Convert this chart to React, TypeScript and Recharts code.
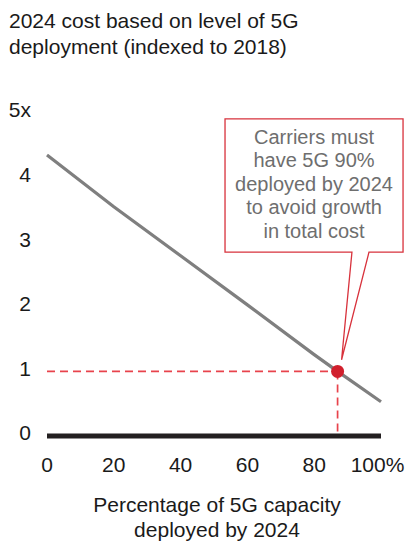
import React from "react";
import {
  ComposedChart,
  Line,
  XAxis,
  YAxis,
  ReferenceLine,
  ReferenceArea,
} from "recharts";

// percentage of 5G capacity deployed by 2024 vs 2024 cost (indexed to 2018)
const deployedPct = [0, 20, 40, 60, 80, 87, 100];
const costIndex = [4.35, 3.55, 2.79, 2.03, 1.26, 1.0, 0.53];

const xTicks = [0, 20, 40, 60, 80, 100];
const yTicks = [0, 1, 2, 3, 4, 5];

const targetPct = 87;
const targetCost = 1;

const titleLines = ["2024 cost based on level of 5G", "deployment (indexed to 2018)"];
const xLabelLines = ["Percentage of 5G capacity", "deployed by 2024"];
const calloutLines = [
  "Carriers must",
  "have 5G 90%",
  "deployed by 2024",
  "to avoid growth",
  "in total cost",
];

const chartData = deployedPct.map((x, i) => ({ x, cost: costIndex[i] }));

const FONT = '"Liberation Sans", Arial, Helvetica, sans-serif';
const RED = "#d8323c";
const DASH_RED = "#e8434c";

// callout box in data units (box sticks out past 100 on the right)
const BOX = { x1: 53.3, x2: 106.6, y1: 2.845, y2: 4.91 };
const POINTER = { baseL: 91.3, baseR: 96.4, tipX: 88.2, tipY: 1.18 };

function Callout(props: any) {
  const { x, y, width, height } = props;
  const kx = width / (BOX.x2 - BOX.x1);
  const ky = height / (BOX.y2 - BOX.y1);
  const px = (v: number) => x + (v - BOX.x1) * kx;
  const py = (v: number) => y + (BOX.y2 - v) * ky;
  const bottom = y + height;
  const d =
    `M${x},${y} H${x + width} V${bottom} H${px(POINTER.baseR)} ` +
    `L${px(POINTER.tipX)},${py(POINTER.tipY)} L${px(POINTER.baseL)},${bottom} H${x} Z`;
  return (
    <g>
      <path d={d} fill="#fff" stroke={RED} strokeWidth={1.3} />
      {calloutLines.map((t, i) => (
        <text
          key={i}
          x={x + width / 2}
          y={y + 25 + i * 23.5}
          textAnchor="middle"
          fontSize={20}
          fontFamily={FONT}
          fill="#6e6e6e"
        >
          {t}
        </text>
      ))}
    </g>
  );
}

function XTick(props: any) {
  const { x, y, payload } = props;
  const label = payload.value === 100 ? "100%" : String(payload.value);
  return (
    <text
      x={payload.value === 100 ? x - 3.5 : x}
      y={y}
      dy="0.71em"
      textAnchor="middle"
      fontSize={21}
      fontFamily={FONT}
      fill="#1a1a1a"
    >
      {label}
    </text>
  );
}

function YTick(props: any) {
  const { x, y, payload } = props;
  const label = payload.value === 5 ? "5x" : String(payload.value);
  return (
    <text
      x={x}
      y={y - 3}
      dy="0.355em"
      textAnchor="end"
      fontSize={21}
      fontFamily={FONT}
      fill="#1a1a1a"
    >
      {label}
    </text>
  );
}

function TargetDot(props: any) {
  const { cx, cy, payload, index } = props;
  if (payload.x !== targetPct) return <g key={`d-${index}`} />;
  return <circle key={`d-${index}`} cx={cx} cy={cy} r={6.5} fill="#d11f2c" />;
}

export default function App() {
  return (
    <div
      style={{
        position: "absolute",
        left: 0,
        top: 0,
        width: 415,
        height: 542,
        background: "#fff",
        fontFamily: FONT,
        color: "#1a1a1a",
      }}
    >
      <div
        style={{
          position: "absolute",
          left: 9,
          top: 8,
          fontSize: 21,
          lineHeight: "26px",
          whiteSpace: "nowrap",
        }}
      >
        {titleLines.map((t) => (
          <div key={t}>{t}</div>
        ))}
      </div>
      <ComposedChart
        width={415}
        height={542}
        data={chartData}
        margin={{ top: 113, right: 34, bottom: 0, left: 0 }}
        style={{ position: "absolute", left: 0, top: 0 }}
      >
        <XAxis
          dataKey="x"
          type="number"
          domain={[0, 100]}
          ticks={xTicks}
          height={106}
          tickLine={false}
          tickSize={0}
          tickMargin={21}
          axisLine={{ stroke: "#231f20", strokeWidth: 5 }}
          tick={<XTick />}
          interval={0}
        />
        <YAxis
          type="number"
          domain={[0, 5]}
          ticks={yTicks}
          width={47}
          axisLine={false}
          tickLine={false}
          tickSize={0}
          tickMargin={16}
          tick={<YTick />}
          interval={0}
        />
        <ReferenceArea
          x1={BOX.x1}
          x2={BOX.x2}
          y1={BOX.y1}
          y2={BOX.y2}
          ifOverflow="visible"
          shape={(p: any) => <Callout {...p} />}
        />
        <ReferenceLine
          segment={[
            { x: 0, y: targetCost },
            { x: targetPct, y: targetCost },
          ]}
          stroke={DASH_RED}
          strokeOpacity={1}
          strokeWidth={1.7}
          strokeDasharray="8 5"
        />
        <ReferenceLine
          segment={[
            { x: targetPct, y: targetCost },
            { x: targetPct, y: 0 },
          ]}
          stroke={DASH_RED}
          strokeOpacity={1}
          strokeWidth={1.7}
          strokeDasharray="8 5"
        />
        <Line
          type="linear"
          dataKey="cost"
          stroke="#7f7f7f"
          strokeWidth={3.2}
          dot={(p: any) => <TargetDot {...p} />}
          activeDot={false}
          isAnimationActive={false}
        />
      </ComposedChart>
      <div
        style={{
          position: "absolute",
          left: 17,
          width: 400,
          top: 492,
          fontSize: 21,
          lineHeight: "25px",
          textAlign: "center",
        }}
      >
        {xLabelLines.map((t) => (
          <div key={t}>{t}</div>
        ))}
      </div>
    </div>
  );
}
